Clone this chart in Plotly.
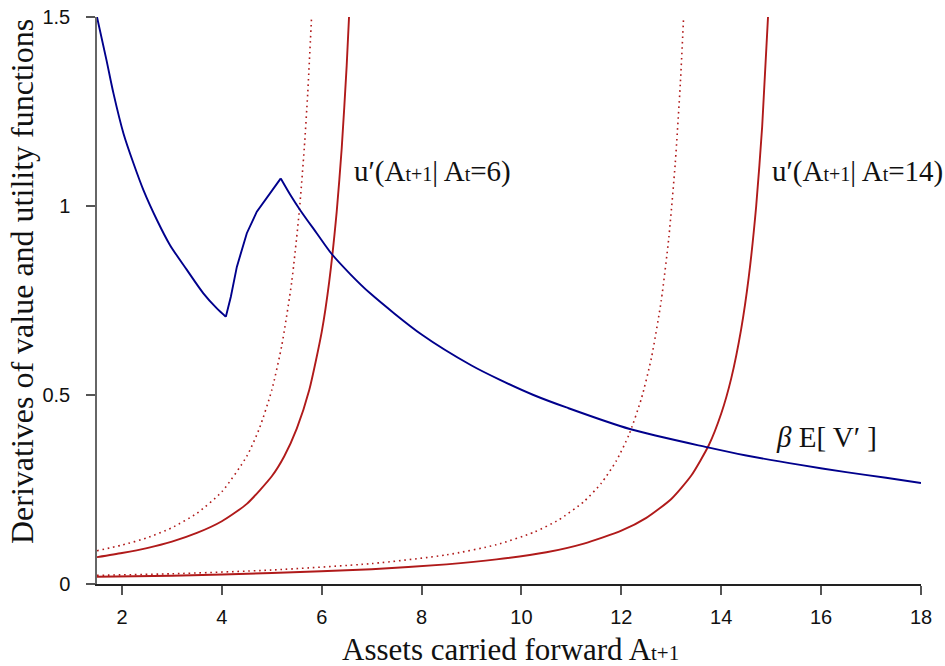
import plotly.graph_objects as go

# Blue: beta E[V']  (segments: falling 0..11, rising 11..17, falling 17..end)
bev_x = [1.5, 1.69, 1.83, 2.03, 2.23, 2.43, 2.70, 2.96, 3.30, 3.63, 3.90, 4.08,
         4.18, 4.30, 4.50, 4.70, 4.95, 5.18,
         5.37, 5.57, 5.90, 6.20, 6.57, 6.97, 8.0, 9.0, 9.57, 10.24, 10.90,
         12.17, 13.71, 14.5, 15.58, 16.5, 17.3, 18.0]
bev_y = [1.50, 1.386, 1.298, 1.192, 1.113, 1.042, 0.963, 0.897, 0.831, 0.769, 0.729, 0.707,
         0.76, 0.839, 0.928, 0.985, 1.03, 1.073,
         1.03, 0.989, 0.928, 0.873, 0.820, 0.769, 0.660, 0.578, 0.540, 0.500, 0.467,
         0.410, 0.362, 0.340, 0.315, 0.296, 0.281, 0.267]

# Red solid: u'(A_{t+1} | A_t = 6)
u6_x = [1.5, 2.0, 2.5, 3.0, 3.5, 4.0, 4.5, 5.0, 5.25, 5.5, 5.75, 6.0, 6.15, 6.3, 6.4, 6.5, 6.55]
u6_y = [0.071, 0.082, 0.095, 0.112, 0.135, 0.166, 0.212, 0.285, 0.338, 0.411, 0.513, 0.667,
        0.800, 0.985, 1.152, 1.372, 1.509]

# Red dotted: alternative u'(A_{t+1} | A_t = 6)
d6_x = [1.5, 2.0, 2.5, 3.0, 3.5, 4.0, 4.5, 4.75, 5.0, 5.2, 5.4, 5.55, 5.65, 5.72, 5.8]
d6_y = [0.088, 0.103, 0.122, 0.149, 0.187, 0.244, 0.338, 0.411, 0.513, 0.631, 0.800, 0.985,
        1.152, 1.299, 1.509]

# Red solid: u'(A_{t+1} | A_t = 14)
u14_x = [1.5, 3.0, 5.0, 7.0, 8.5, 9.5, 10.5, 11.25, 12.0, 12.5, 13.0, 13.4, 13.75, 14.0,
         14.2, 14.4, 14.55, 14.7, 14.82, 14.94]
u14_y = [0.019, 0.022, 0.029, 0.039, 0.052, 0.065, 0.084, 0.107, 0.141, 0.175, 0.225, 0.287,
         0.367, 0.451, 0.544, 0.675, 0.811, 1.000, 1.211, 1.509]

# Red dotted: alternative u'(A_{t+1} | A_t = 14)
d14_x = [1.5, 3.0, 5.0, 7.0, 8.5, 9.5, 10.25, 10.75, 11.25, 11.6, 11.9, 12.15, 12.4, 12.6,
         12.8, 12.95, 13.08, 13.18, 13.25]
d14_y = [0.023, 0.027, 0.037, 0.054, 0.077, 0.104, 0.137, 0.170, 0.218, 0.267, 0.326, 0.394,
         0.490, 0.597, 0.751, 0.916, 1.115, 1.322, 1.509]

x_ticks = [2, 4, 6, 8, 10, 12, 14, 16, 18]
y_ticks = [0, 0.5, 1, 1.5]
y_tick_labels = ["0", "0.5", "1", "1.5"]

RED = "#B01A1A"
BLUE = "#00008C"
SERIF = "Liberation Serif, Times New Roman, serif"

fig = go.Figure()
for xs, ys in [(d6_x, d6_y), (d14_x, d14_y)]:
    fig.add_trace(go.Scatter(x=xs, y=ys, mode="lines",
                             line=dict(color=RED, width=1.6, dash="1.6px,3.8px",
                                       shape="spline", smoothing=0.6)))
for xs, ys in [(u6_x, u6_y), (u14_x, u14_y)]:
    fig.add_trace(go.Scatter(x=xs, y=ys, mode="lines",
                             line=dict(color=RED, width=1.9, shape="spline", smoothing=0.6)))
# blue curve drawn in three pieces so the kink and the peak stay sharp
for a, b, shp in [(0, 12, "spline"), (11, 18, "linear"), (17, len(bev_x), "spline")]:
    fig.add_trace(go.Scatter(x=bev_x[a:b], y=bev_y[a:b], mode="lines",
                             line=dict(color=BLUE, width=1.9, shape=shp, smoothing=0.8)))

sub = '<span style="font-size:20px">{}</span>'
ann_font = dict(family=SERIF, size=29, color="#111")
fig.add_annotation(x=6.61, y=1.09, xanchor="left", yanchor="middle", showarrow=False,
                   text="u′(A" + sub.format("t+1") + "| A" + sub.format("t") + "=6)", font=ann_font)
fig.add_annotation(x=14.98, y=1.09, xanchor="left", yanchor="middle", showarrow=False,
                   text="u′(A" + sub.format("t+1") + "| A" + sub.format("t") + "=14)", font=ann_font)
fig.add_annotation(x=15.06, y=0.389, xanchor="left", yanchor="middle", showarrow=False,
                   text="<i>β</i> E[ V′ ]", font=ann_font)

# axis titles
fig.add_annotation(xref="paper", yref="paper", x=0.5024, y=-0.1164, xanchor="center", yanchor="middle",
                   showarrow=False, font=dict(family=SERIF, size=31, color="#111"),
                   text="Assets carried forward A" + '<span style="font-size:21px">t+1</span>')
fig.add_annotation(xref="paper", yref="paper", x=-0.091, y=0.5326, xanchor="center", yanchor="middle",
                   textangle=-90, showarrow=False, font=dict(family=SERIF, size=32, color="#111"),
                   text="Derivatives of value and utility functions")

fig.update_layout(
    width=945, height=666,
    margin=dict(l=97, r=24, t=17, b=82),
    plot_bgcolor="white", paper_bgcolor="white",
    showlegend=False,
    font=dict(family="Liberation Sans, Arial, sans-serif", size=20, color="#111"),
)
fig.update_xaxes(
    range=[1.5, 18], tickvals=x_ticks, showgrid=False, zeroline=False, automargin=False,
    showline=True, linecolor="#222", linewidth=1.5,
    ticks="outside", ticklen=9, tickcolor="#555", tickwidth=1.5,
    tickfont=dict(size=20), ticklabelstandoff=5,
)
fig.update_yaxes(
    range=[0, 1.5], tickvals=y_ticks, ticktext=y_tick_labels, showgrid=False, zeroline=False,
    automargin=False,
    showline=True, linecolor="#666", linewidth=1.5,
    ticks="outside", ticklen=9, tickcolor="#555", tickwidth=1.5,
    tickfont=dict(size=20), ticklabelstandoff=12,
)

fig.write_html("out.html", config={"displayModeBar": False},
               post_script="document.body.style.margin='0px';document.body.style.overflow='hidden';")
